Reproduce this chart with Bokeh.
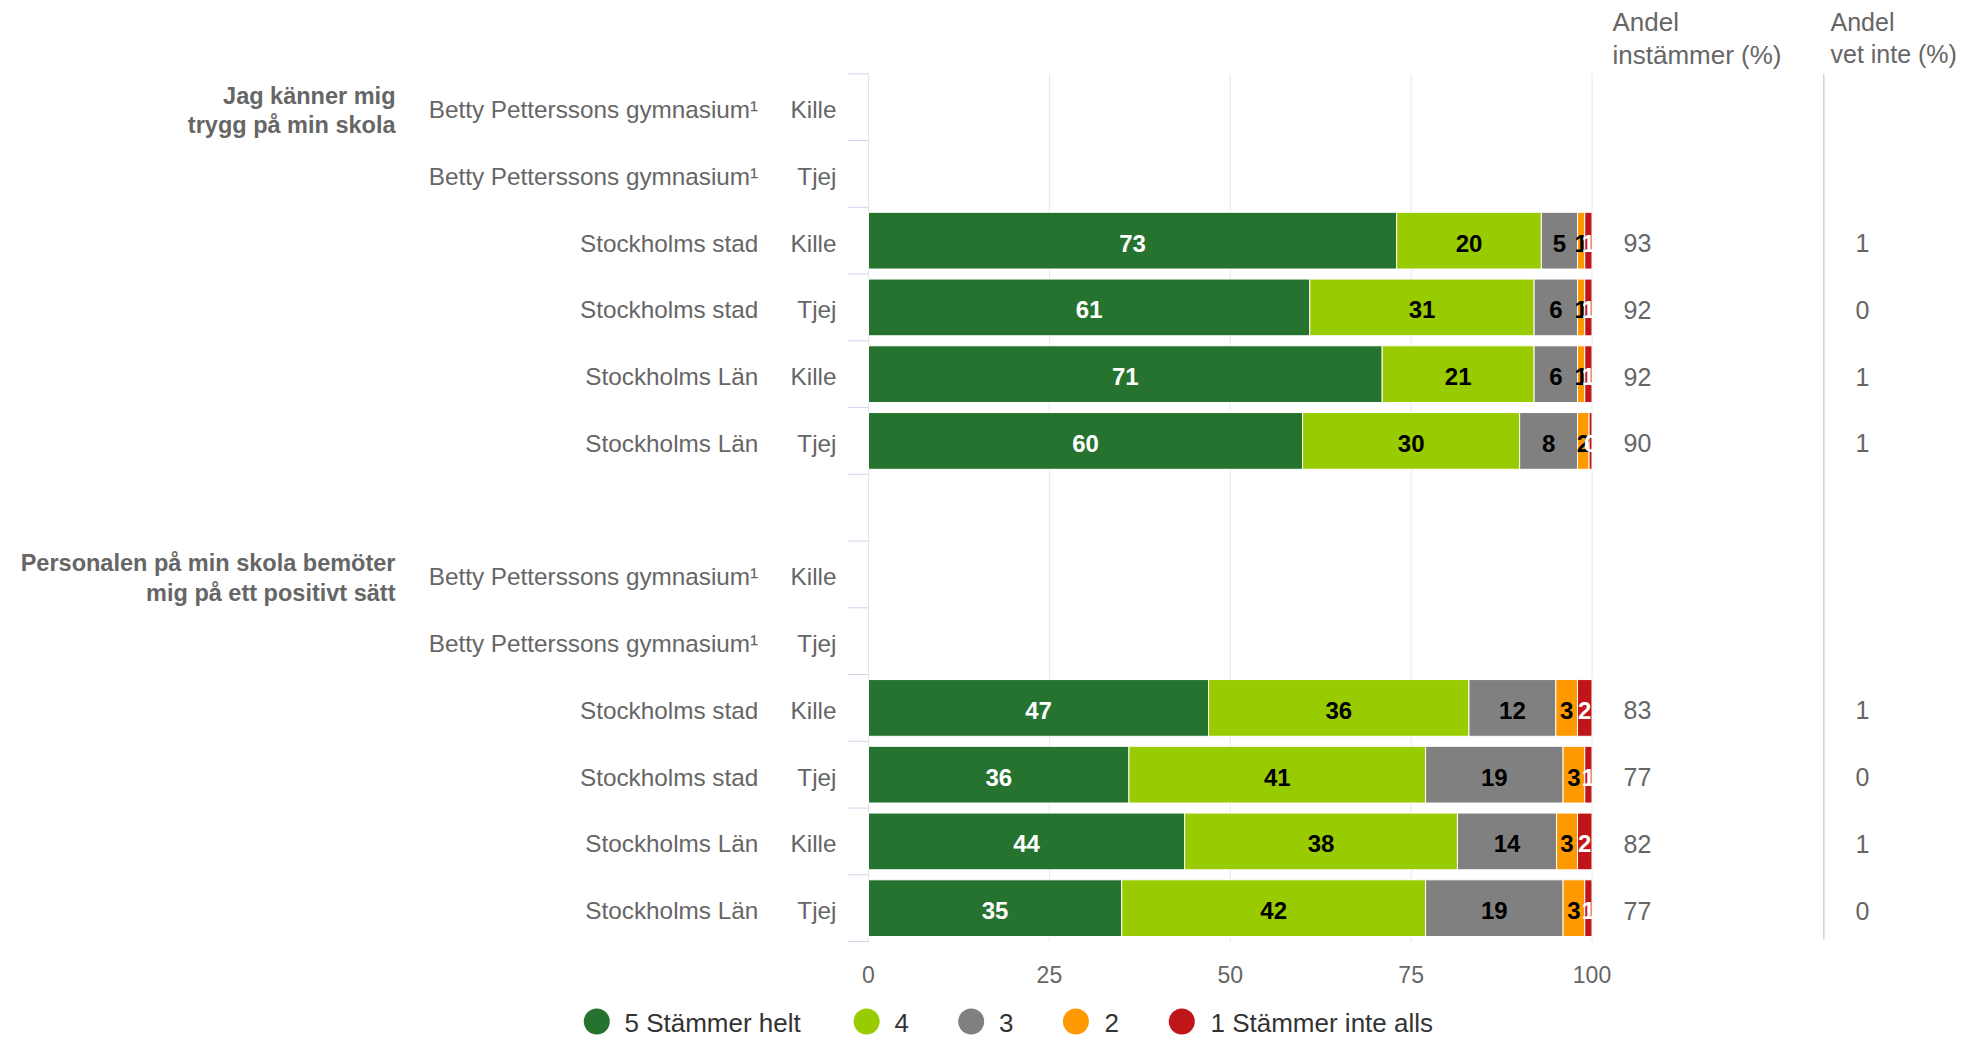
import math
from bokeh.plotting import figure
from bokeh.models import ColumnDataSource, Range1d
from bokeh.core.properties import value
from bokeh.embed import file_html
from bokeh.resources import INLINE

nan = float("nan")

# ---------------- data ----------------
questions = ["Jag känner mig\ntrygg på min skola",
             "Personalen på min skola bemöter\nmig på ett positivt sätt"]
units = ["Betty Petterssons gymnasium¹", "Betty Petterssons gymnasium¹",
         "Stockholms stad", "Stockholms stad",
         "Stockholms Län", "Stockholms Län"]
genders = ["Kille", "Tjej", "Kille", "Tjej", "Kille", "Tjej"]
series = ["5 Stämmer helt", "4", "3", "2", "1 Stämmer inte alls"]

q1_helt = [nan, nan, 73, 61, 71, 60]
q1_4 = [nan, nan, 20, 31, 21, 30]
q1_3 = [nan, nan, 5, 6, 6, 8]
q1_2 = [nan, nan, 1, 1, 1, 1.6]
q1_inte = [nan, nan, 1, 1, 1, 0.4]
q1_instammer = [None, None, 93, 92, 92, 90]
q1_vetinte = [None, None, 1, 0, 1, 1]

q2_helt = [nan, nan, 47, 36, 43.7, 35]
q2_4 = [nan, nan, 36, 41, 37.7, 42]
q2_3 = [nan, nan, 12, 19, 13.7, 19]
q2_2 = [nan, nan, 3, 3, 2.9, 3]
q2_inte = [nan, nan, 2, 1, 2.0, 1]
q2_instammer = [None, None, 83, 77, 82, 77]
q2_vetinte = [None, None, 1, 0, 1, 0]

x_ticks = [0, 25, 50, 75, 100]
col_headers = ["Andel\ninstämmer (%)", "Andel\nvet inte (%)"]

# ---------------- styles / layout ----------------
colors = ["#267330", "#99cc00", "#808080", "#ff9900", "#c0161a"]
label_colors = ["#ffffff", "#000000", "#000000", "#000000", "#ffffff"]
FONT = value("Liberation Sans")
GREY = "#666666"

W, H = 1957, 1043
X0 = 868.0          # canvas px of value 0
K = 7.235           # px per percent
TOP = 73.3          # canvas px of first band top
BAND = 66.75        # px per category band
TXT_DY = 2.5 / BAND  # small downward nudge for row texts


def px_x(px):
    return (px - X0) / K


def px_y(px):
    return (px - TOP) / BAND - 0.5


p = figure(width=W, height=H,
           x_range=Range1d(px_x(0), px_x(W)),
           y_range=Range1d(px_y(H), px_y(0)),
           output_backend="svg", toolbar_location=None,
           x_axis_location=None, y_axis_location=None,
           min_border=0, outline_line_color=None,
           background_fill_color="white", border_fill_color="white")
p.xgrid.grid_line_color = None
p.ygrid.grid_line_color = None
p.grid.visible = False

blocks = [
    (questions[0], [q1_helt, q1_4, q1_3, q1_2, q1_inte], q1_instammer, q1_vetinte),
    (questions[1], [q2_helt, q2_4, q2_3, q2_2, q2_inte], q2_instammer, q2_vetinte),
]
n_rows = len(units) * 2 + 1

# gridlines and category ticks
p.segment(x0=x_ticks, y0=[-0.5] * len(x_ticks), x1=x_ticks, y1=[n_rows - 0.5] * len(x_ticks),
          line_color="#e6e6e6", line_width=1)
bounds = [i - 0.5 for i in range(n_rows + 1)]
p.segment(x0=[-21 / K] * len(bounds), y0=bounds, x1=[0] * len(bounds), y1=bounds,
          line_color="#ccd6eb", line_width=1)
sep_x = px_x(1823.3)
p.segment(x0=[sep_x], y0=[-0.5], x1=[sep_x], y1=[n_rows - 0.53],
          line_color="#ccd6eb", line_width=1.5)

bar = dict(y=[], left=[], right=[], color=[])
lab = dict(x=[], y=[], text=[], color=[])
cat = dict(y=[], unit=[], gender=[])
right1 = dict(y=[], text=[])
right2 = dict(y=[], text=[])
grp = dict(y=[], text=[])

for b, (q, svals, inst, vet) in enumerate(blocks):
    base = b * (len(units) + 1)
    grp["y"].append(base + 0.05)
    grp["text"].append(q)
    for r in range(len(units)):
        row = base + r
        cat["y"].append(row + TXT_DY)
        cat["unit"].append(units[r])
        cat["gender"].append(genders[r])
        cum = 0.0
        for s in range(len(series)):
            v = svals[s][r]
            if v is None or (isinstance(v, float) and math.isnan(v)):
                continue
            bar["y"].append(row)
            bar["left"].append(cum)
            bar["right"].append(cum + v)
            bar["color"].append(colors[s])
            lab["x"].append(cum + v / 2)
            lab["y"].append(row + TXT_DY)
            lab["text"].append(f"{v:.0f}")
            lab["color"].append(label_colors[s])
            cum += v
        if inst[r] is not None:
            right1["y"].append(row + TXT_DY)
            right1["text"].append(str(inst[r]))
        if vet[r] is not None:
            right2["y"].append(row + TXT_DY)
            right2["text"].append(str(vet[r]))

p.hbar(y="y", left="left", right="right", height=0.85, fill_color="color",
       line_color="white", line_width=1, source=ColumnDataSource(bar))
p.text(x="x", y="y", text="text", text_color="color", source=ColumnDataSource(lab),
       text_align="center", text_baseline="middle", text_font=FONT,
       text_font_size="24px", text_font_style="bold")

# category labels
csrc = ColumnDataSource(cat)
p.text(x=px_x(757.7), y="y", text="unit", source=csrc, text_align="right",
       text_baseline="middle", text_font=FONT, text_font_size="24.3px", text_color=GREY)
p.text(x=px_x(836), y="y", text="gender", source=csrc, text_align="right",
       text_baseline="middle", text_font=FONT, text_font_size="24.3px", text_color=GREY)
p.text(x=px_x(395), y="y", text="text", source=ColumnDataSource(grp),
       text_align="right", text_baseline="middle", text_font=FONT,
       text_font_size="23.5px", text_font_style="bold", text_color=GREY,
       text_line_height=1.14)

# right columns
p.text(x=px_x(1623), y="y", text="text", source=ColumnDataSource(right1),
       text_align="left", text_baseline="middle", text_font=FONT,
       text_font_size="25px", text_color=GREY)
p.text(x=px_x(1855), y="y", text="text", source=ColumnDataSource(right2),
       text_align="left", text_baseline="middle", text_font=FONT,
       text_font_size="25px", text_color=GREY)
head_y = px_y(37.5)
p.text(x=[px_x(1612)], y=[head_y], text=[col_headers[0]],
       text_align="left", text_baseline="middle", text_font=FONT,
       text_font_size="26px", text_color=GREY, text_line_height=1.1)
p.text(x=[px_x(1830)], y=[head_y], text=[col_headers[1]],
       text_align="left", text_baseline="middle", text_font=FONT,
       text_font_size="25px", text_color=GREY, text_line_height=1.14)

# x tick labels
tick_y = px_y(973.5)
p.text(x=x_ticks, y=[tick_y] * len(x_ticks), text=[str(t) for t in x_ticks],
       text_align="center", text_baseline="middle", text_font=FONT,
       text_font_size="23px", text_color=GREY)

# legend (kept fully inside the canvas)
leg_y = px_y(1021.0)
leg_marker_px = [596.3, 866.1, 970.7, 1075.4, 1181.3]
leg_text_px = [624, 894, 998.5, 1104, 1210]
p.scatter(x=[px_x(v) for v in leg_marker_px], y=[leg_y] * len(series),
          size=26, marker="circle", fill_color=colors, line_color=None)
p.text(x=[px_x(v) for v in leg_text_px], y=[leg_y + 1.5 / BAND] * len(series), text=series,
       text_align="left", text_baseline="middle", text_font=FONT,
       text_font_size="26px", text_color="#333333")

open("out.html", "w").write(file_html(p, INLINE))
